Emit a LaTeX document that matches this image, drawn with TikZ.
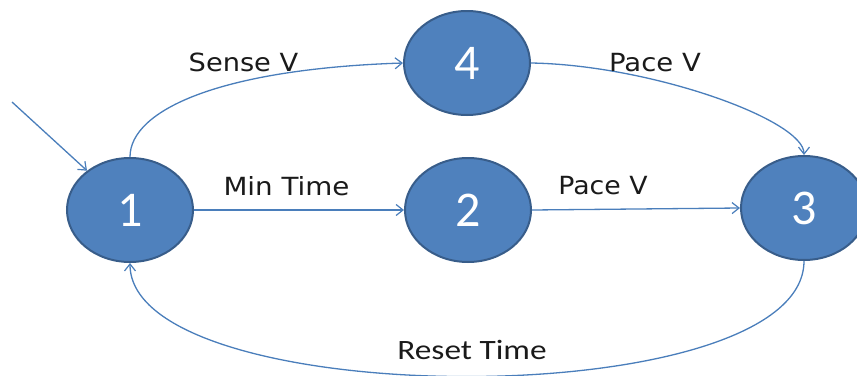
\documentclass[tikz,border=0pt]{standalone}
\usepackage{fontspec}
\usepackage{graphicx}
\usetikzlibrary{arrows.meta,shapes.geometric}
\newfontfamily\labelfont{DejaVu Sans}
\newfontfamily\calfont{Carlito}
\definecolor{statefill}{HTML}{4F81BD}
\definecolor{stateedge}{HTML}{385D8A}
\definecolor{arrowblue}{HTML}{4A7EBB}
\definecolor{labelink}{HTML}{1A1A1A}
\begin{document}
\begin{tikzpicture}[x=1pt,y=-1pt,
  state/.style={ellipse,fill=statefill,draw=stateedge,line width=2pt,
    minimum width=126pt,minimum height=104pt,inner sep=0pt,
    text=white,font=\calfont\fontsize{50}{50}\selectfont},
  trans/.style={draw=arrowblue,line width=1.3pt,
    -{Straight Barb[length=7pt,width=11pt,line width=1.2pt]}},
  lbl/.style={anchor=base,text=labelink,inner sep=0pt,
    font=\labelfont\fontsize{25}{25}\selectfont},
  lblcal/.style={anchor=base,text=labelink,inner sep=0pt,
    font=\calfont\fontsize{28}{28}\selectfont}]
  \useasboundingbox (0,0) rectangle (857,375);
  \clip (0,0) rectangle (857,375);

  % states
  \node[state] (s1) at (130,210) {1};
  \node[state] (s2) at (468,210) {2};
  \node[state] (s3) at (804,208) {3};
  \node[state] (s4) at (467,63) {4};

  % initial transition
  \coordinate (init) at (12,102);
  \draw[trans] (init) -- (s1);

  % transitions between states
  \draw[trans] (s1.north) .. controls +(0,-47) and +(-183,6) .. (s4.west);
  \draw[trans] (s4.east) .. controls +(120,2) and +(0,-35) .. (s3.north);
  \draw[trans] (s1.east) -- (s2.west);
  \draw[trans] (s2.east) -- (s3.west);
  \draw[trans] (s3.south) .. controls +(0,155) and +(0,150) .. (s1.south);

  % transition labels
  \node[lbl] (l14) at (243.5,71) {\scalebox{1.09}[1]{Sense V}};
  \node[lbl] (l43) at (655,71) {\scalebox{1.1}[1]{Pace V}};
  \node[lbl] (l12) at (286.5,195) {\scalebox{1.11}[1]{Min Time}};
  \node[lbl] (l23) at (603,194) {\scalebox{1.07}[1]{Pace V}};
  \node[lblcal] (l31) at (472,359) {\scalebox{1.19}[1]{Reset Time}};
\end{tikzpicture}
\end{document}
